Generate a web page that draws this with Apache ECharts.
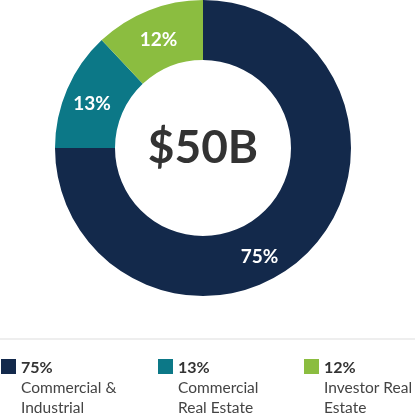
<!DOCTYPE html>
<html>
<head>
<meta charset="utf-8">
<script src="https://cdn.jsdelivr.net/npm/echarts@6/dist/echarts.min.js"></script>
<style>
  html, body { margin: 0; padding: 0; background: #fff; }
  #chart { width: 415px; height: 418px; }
</style>
</head>
<body>
<div id="chart"></div>
<script>
// slice data
var categories = ['Commercial & Industrial', 'Commercial Real Estate', 'Investor Real Estate'];
var values = [75, 13, 12];
var colors = ['#13294b', '#0c7887', '#8bbd40'];
// legend text split over two lines
var legendLines = [['Commercial &', 'Industrial'], ['Commercial', 'Real Estate'], ['Investor Real', 'Estate']];
var legendLeft = [1, 158, 304];
var centerText = '$50B';

var FONT = 'Lato, "Open Sans", sans-serif';

var pieData = [];
for (var i = 0; i < categories.length; i++) {
    var item = { name: categories[i], value: values[i], itemStyle: { color: colors[i] } };
    if (i === 0) {
        // the big slice label sits lower-left of its mid angle
        item.label = {
            formatter: '\n\n{c}%',
            lineHeight: 23,
            padding: [0, 58, 0, 0]
        };
    }
    pieData.push(item);
}

var legends = [];
categories.forEach(function (name, i) {
    legends.push({
        data: [name],
        left: legendLeft[i],
        top: 359,
        icon: 'rect',
        itemWidth: 15,
        itemHeight: 15,
        itemGap: 0,
        padding: 0,
        selectedMode: false,
        formatter: function () {
            return '{b|' + values[i] + '%}\n{n|' + legendLines[i][0] + '}\n{n|' + legendLines[i][1] + '}';
        },
        textStyle: {
            padding: [42, 0, 0, 0],
            rich: {
                b: { fontFamily: FONT, fontSize: 16, fontWeight: 'bold', color: '#333', lineHeight: 20 },
                n: { fontFamily: FONT, fontSize: 15.5, color: '#444', lineHeight: 20 }
            }
        }
    });
});

var option = {
    animation: false,
    legend: legends,
    graphic: [
        {
            type: 'rect',
            shape: { x: 0, y: 338, width: 415, height: 2 },
            style: { fill: '#eeeeee' }
        }
    ],
    series: [
        {
            type: 'pie',
            center: [203, 148],
            radius: [88, 148],
            startAngle: 90,
            clockwise: true,
            avoidLabelOverlap: false,
            label: {
                show: true,
                position: 'inside',
                formatter: '\n{c}%',
                lineHeight: 8,
                color: '#fff',
                fontFamily: FONT,
                fontWeight: 'bold',
                fontSize: 19
            },
            labelLine: { show: false },
            emphasis: { disabled: true },
            data: pieData
        },
        {
            type: 'pie',
            center: [203, 148],
            radius: [0, 0],
            silent: true,
            label: {
                show: true,
                position: 'center',
                formatter: centerText,
                color: '#333',
                fontFamily: FONT,
                fontWeight: 'bold',
                fontSize: 46
            },
            data: [{ name: 'total', value: 1 }]
        }
    ]
};

var myChart = echarts.init(document.getElementById('chart'));
myChart.setOption(option);
</script>
</body>
</html>
